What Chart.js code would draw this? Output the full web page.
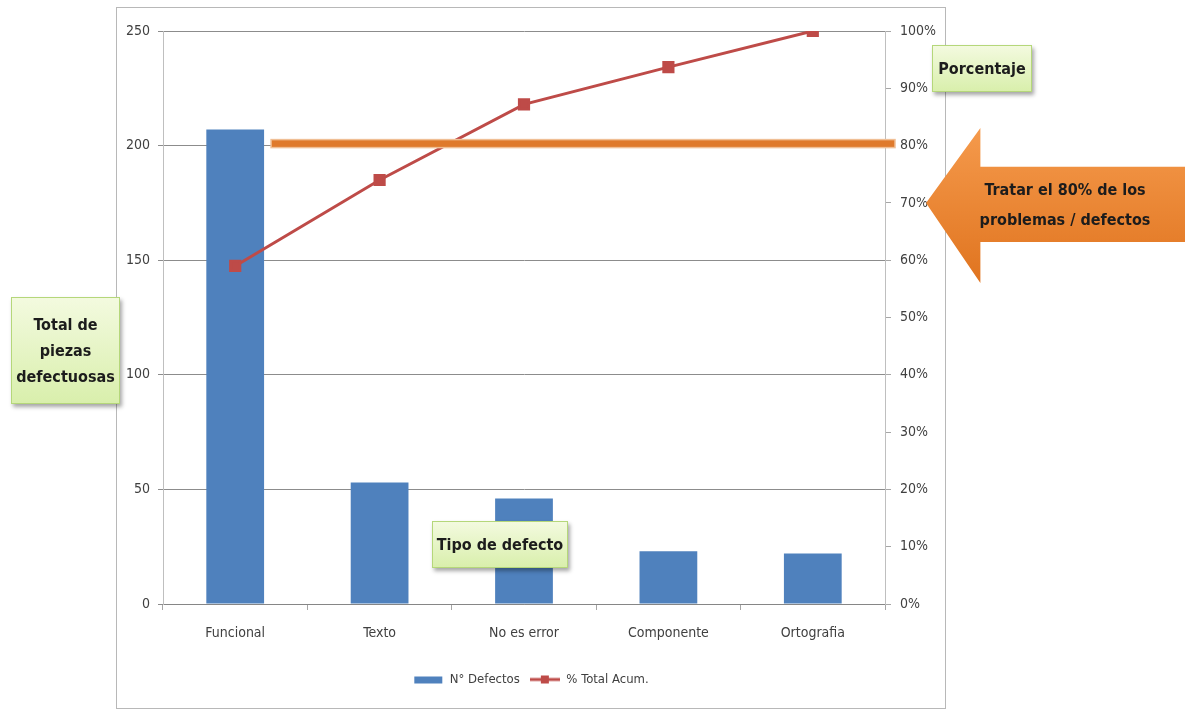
<!DOCTYPE html>
<html>
<head>
<meta charset="utf-8">
<script src="https://cdn.jsdelivr.net/npm/chart.js@4.4.0/dist/chart.umd.min.js"></script>
<style>
  body { margin: 0; background: #ffffff; width: 1185px; height: 711px; position: relative; overflow: hidden;
         font-family: "Liberation Sans Narrow", "DejaVu Sans Condensed", sans-serif; }
  #frame { position: absolute; left: 116px; top: 7px; width: 828px; height: 700px; border: 1px solid #b8b8b8; }
  #wrap { position: absolute; left: 116px; top: 7px; width: 830px; height: 702px; }
  .callout { position: absolute; box-sizing: border-box; border: 1px solid #b5d77a;
             background: linear-gradient(to bottom, #f3fadf, #d9efac);
             box-shadow: 2px 3px 4px rgba(0,0,0,0.35);
             display: flex; align-items: center; justify-content: center; text-align: center;
             font-weight: bold; color: #1c1c1c; font-size: 16px; line-height: 26px; }
  #arrow { position: absolute; left: 926px; top: 128px; width: 259px; height: 155px;
           background: linear-gradient(to bottom, #f59a4c, #e0741f);
           clip-path: polygon(0 48.4%, 21% 0, 21% 25%, 100% 25%, 100% 73.5%, 21% 73.5%, 21% 100%);
           filter: drop-shadow(2px 3px 3px rgba(0,0,0,0.3)); }
  #arrowText { position: absolute; left: 975px; top: 175px; width: 180px; text-align: center;
               font-weight: bold; color: #1c1c1c; font-size: 16px; line-height: 30px; }
</style>
</head>
<body>
<div id="frame"></div>
<div id="wrap"><canvas id="chart1"></canvas></div>

<div class="callout" style="left:11px; top:297px; width:109px; height:107px;">Total de<br>piezas<br>defectuosas</div>
<div class="callout" style="left:932px; top:45px; width:100px; height:47px;">Porcentaje</div>
<div class="callout" style="left:432px; top:521px; width:136px; height:47px;">Tipo de defecto</div>
<div id="arrow"></div>
<div id="arrowText">Tratar el 80% de los<br>problemas / defectos</div>

<script>
//------------------------------------------- Data -------------------------------------------//
const categories = ['Funcional', 'Texto', 'No es error', 'Componente', 'Ortografia'];
const defectos = [207, 53, 46, 23, 22];
const acumulado = [59, 74, 87.2, 93.7, 100];
const target_pct = 80;

const bar_color = '#4f81bd';
const line_color = '#be4b48';
const axis_font = { family: '"Liberation Sans Narrow", "DejaVu Sans Condensed", sans-serif', size: 14 };

// Legend swatches (bar block and line with square marker)
function makeSwatch(kind) {
    var c = document.createElement('canvas');
    c.width = 30; c.height = 12;
    var g = c.getContext('2d');
    if (kind === 'bar') {
        g.fillStyle = bar_color;
        g.fillRect(1, 3, 28, 7);
    } else {
        g.strokeStyle = line_color;
        g.lineWidth = 3;
        g.beginPath(); g.moveTo(0, 6); g.lineTo(30, 6); g.stroke();
        g.fillStyle = line_color;
        g.fillRect(11, 2, 8, 8);
    }
    return c;
}

// 80% target band, drawn on top of everything
const targetLine = {
    id: 'targetLine',
    afterDatasetsDraw(chart) {
        var ctx = chart.ctx;
        var y = chart.scales.y1.getPixelForValue(target_pct) - 2;
        var bar = chart.getDatasetMeta(0).data[0];
        var x0 = bar.x + bar.width / 2 + 7;
        var x1 = chart.chartArea.right + 10;
        ctx.save();
        ctx.fillStyle = '#df7a2c';
        ctx.strokeStyle = '#f0bf95';
        ctx.lineWidth = 1.5;
        ctx.fillRect(x0, y - 4, x1 - x0, 8);
        ctx.strokeRect(x0, y - 4, x1 - x0, 8);
        ctx.restore();
    }
};

var ctx = document.getElementById('chart1');
var chart = new Chart(ctx, {
    type: 'bar',
    data: {
        labels: categories,
        datasets: [{
            type: 'bar',
            label: 'N° Defectos',
            data: defectos,
            backgroundColor: bar_color,
            categoryPercentage: 1.0,
            barPercentage: 0.4,
            yAxisID: 'y',
            order: 2
        }, {
            type: 'line',
            label: '% Total Acum.',
            data: acumulado,
            borderColor: line_color,
            backgroundColor: line_color,
            borderWidth: 3,
            pointStyle: 'rect',
            pointRadius: 6.5,
            pointHoverRadius: 6.5,
            yAxisID: 'y1',
            order: 1,
            fill: false
        }]
    },
    options: {
        responsive: true,
        maintainAspectRatio: false,
        animation: false,
        layout: {
            padding: { left: 0, right: 0, top: 24, bottom: 13 }
        },
        plugins: {
            tooltip: { enabled: false },
            legend: {
                position: 'bottom',
                labels: {
                    usePointStyle: true,
                    pointStyleWidth: 30,
                    padding: 10,
                    color: '#404040',
                    font: { family: axis_font.family, size: 13 },
                    generateLabels: function(chart) {
                        return [
                            { text: 'N° Defectos', pointStyle: makeSwatch('bar'), datasetIndex: 0, fontColor: '#404040', lineWidth: 0, strokeStyle: 'transparent', fillStyle: bar_color },
                            { text: '% Total Acum.', pointStyle: makeSwatch('line'), datasetIndex: 1, fontColor: '#404040', lineWidth: 0, strokeStyle: 'transparent', fillStyle: line_color }
                        ];
                    }
                }
            }
        },
        scales: {
            x: {
                offset: true,
                afterFit: function(axis) { axis.height = 59; },
                grid: {
                    offset: true,
                    drawOnChartArea: false,
                    tickLength: 6,
                    color: '#a6a6a6'
                },
                border: { color: '#868686' },
                ticks: { color: '#404040', font: axis_font, padding: 15 }
            },
            y: {
                position: 'left',
                min: 0,
                max: 250,
                afterFit: function(axis) { axis.width = 47; },
                ticks: { stepSize: 50, color: '#404040', font: axis_font, padding: 8 },
                grid: { color: '#8c8c8c', tickLength: 5 },
                border: { color: '#bfbfbf' }
            },
            y1: {
                position: 'right',
                min: 0,
                max: 100,
                afterFit: function(axis) { axis.width = 61; },
                ticks: {
                    stepSize: 10,
                    color: '#404040',
                    font: axis_font,
                    padding: 9,
                    callback: function(v) { return v + '%'; }
                },
                grid: { drawOnChartArea: false, color: '#a6a6a6', tickLength: 6 },
                border: { color: '#bfbfbf' }
            }
        }
    },
    plugins: [targetLine]
});
</script>
</body>
</html>
